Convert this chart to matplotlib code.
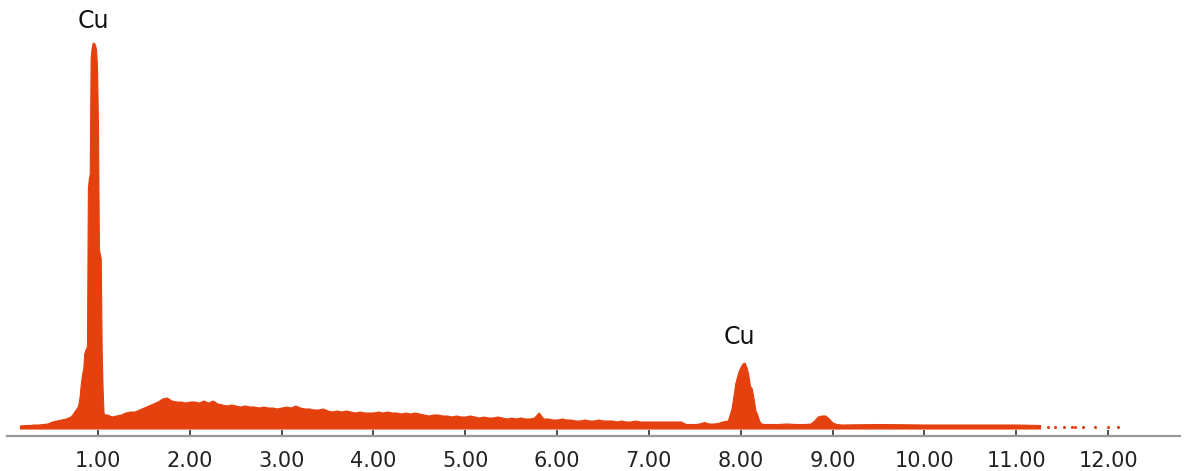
import matplotlib.pyplot as plt
import numpy as np

# EDS spectrum, intensity in arbitrary units
# low energy shoulder before the Cu L line
low_e = [0.15, 0.20, 0.25, 0.30, 0.35, 0.40, 0.45, 0.50, 0.55, 0.60, 0.65, 0.70, 0.72, 0.75]
low_i = [3, 3.5, 3.5, 4, 4, 4.5, 5, 7, 8, 9, 10, 12, 14, 18]

# Cu L line
cul_e = [0.78, 0.79, 0.80, 0.81, 0.82, 0.83, 0.84, 0.85, 0.86, 0.87, 0.88, 0.89,
         0.90, 0.91, 0.92, 0.93, 0.94, 0.95, 0.96, 0.97, 0.98, 0.99, 1.00, 1.01,
         1.02, 1.03, 1.04, 1.05, 1.06, 1.07]
cul_i = [22, 26, 32, 42, 50, 56, 60, 75, 78, 80, 82, 240,
         250, 255, 370, 380, 385, 386, 385, 383, 378, 360, 300, 178,
         175, 170, 78, 40, 16, 14]

# bremsstrahlung background
bg_e = [1.10, 1.15, 1.20, 1.25, 1.30, 1.35, 1.40, 1.45, 1.50, 1.55, 1.60, 1.65, 1.70,
        1.75, 1.80, 1.85, 1.90, 1.95, 2.00, 2.05, 2.10, 2.15, 2.20, 2.25, 2.30, 2.35,
        2.40, 2.45, 2.50, 2.55, 2.60, 2.65, 2.70, 2.75, 2.80, 2.85, 2.90, 2.95, 3.00,
        3.05, 3.10, 3.15, 3.20, 3.25, 3.30, 3.35, 3.40, 3.45, 3.50, 3.55, 3.60, 3.65,
        3.70, 3.75, 3.80, 3.85, 3.90, 3.95, 4.00, 4.05, 4.10, 4.15, 4.20, 4.25, 4.30,
        4.35, 4.40, 4.45, 4.50, 4.55, 4.60, 4.65, 4.70, 4.75, 4.80, 4.85, 4.90, 4.95,
        5.00, 5.05, 5.10, 5.15, 5.20, 5.25, 5.30, 5.35, 5.40, 5.45, 5.50, 5.55, 5.60,
        5.65, 5.70, 5.75, 5.80, 5.85, 5.90, 5.95, 6.00, 6.05, 6.10, 6.15, 6.20, 6.25,
        6.30, 6.35, 6.40, 6.45, 6.50, 6.55, 6.60, 6.65, 6.70, 6.75, 6.80, 6.85, 6.90,
        6.95, 7.00, 7.05, 7.10, 7.15, 7.20, 7.25, 7.30, 7.35, 7.40, 7.45, 7.50, 7.55,
        7.60, 7.65, 7.70, 7.75, 7.80]
bg_i = [14, 12, 13, 14, 16, 17, 17, 19, 21, 23, 25, 27, 30,
        31, 28, 27, 27, 26, 27, 27, 26, 28, 26, 28, 25, 24,
        23, 24, 23, 22, 23, 22, 22, 21, 22, 21, 21, 20, 21,
        22, 21, 23, 21, 20, 20, 19, 19, 20, 18, 17, 18, 17,
        18, 17, 16, 17, 16, 16, 16, 17, 16, 17, 16, 16, 15,
        16, 15, 16, 15, 14, 13, 14, 14, 13, 13, 12, 13, 12,
        12, 13, 12, 11, 12, 11, 11, 12, 11, 10, 11, 10, 11,
        10, 10, 11, 16, 10, 10, 9, 9, 10, 9, 9, 8, 8,
        9, 8, 8, 9, 8, 8, 8, 7, 8, 7, 7, 8, 7,
        7, 7, 7, 7, 7, 7, 7, 7, 7, 4.5, 4.5, 4.5, 5,
        6.5, 5, 5, 5.5, 7]

# Cu K alpha / K beta lines and flat tail
cuk_e = [7.86, 7.88, 7.90, 7.92, 7.94, 7.96, 7.98, 8.00, 8.02, 8.04, 8.06, 8.08,
         8.10, 8.12, 8.14, 8.16, 8.18, 8.20, 8.22, 8.26, 8.30, 8.40, 8.50, 8.60,
         8.70, 8.76, 8.80, 8.84, 8.88, 8.92, 8.96, 9.00, 9.04, 9.10, 9.50, 10.00,
         10.50, 11.00, 11.26]
cuk_i = [8, 14, 20, 32, 45, 52, 58, 62, 65, 66, 62, 55,
         43, 40, 30, 18, 14, 8, 5, 4.5, 4.5, 4.5, 5, 4.5,
         4.5, 5, 8, 12, 13, 13, 10, 6, 4.5, 4, 4.5, 4,
         4, 4, 3.5]

# scattered single counts at the high energy end
dot_e = [11.35, 11.42, 11.52, 11.61, 11.64, 11.73, 11.86, 12.00, 12.11]
dot_i = [2, 2, 2, 2, 2, 2, 2, 2, 2]

peak_labels = ["Cu", "Cu"]
peak_pos = [0.95, 7.98]
peak_h = [408, 91]

ticks = [1, 2, 3, 4, 5, 6, 7, 8, 9, 10, 11, 12]

energy = np.array(low_e + cul_e + bg_e + cuk_e)
inten = np.array(low_i + cul_i + bg_i + cuk_i)

col = "#E5410F"

fig = plt.figure(figsize=(11.84, 4.71), dpi=100)
ax = fig.add_axes([7 / 1184, 35.5 / 471, 1173 / 1184, 435.5 / 471])

ax.fill_between(energy, 0, inten, color=col, linewidth=0.8, edgecolor=col)
ax.scatter(dot_e, dot_i, s=5, color=col, linewidths=0)

for lab, x, y in zip(peak_labels, peak_pos, peak_h):
    ax.text(x, y, lab, ha="center", va="center", fontsize=17, color="#111")

ax.set_xlim(0.009, 12.784)
ax.set_ylim(-7, 428.5)

for s in ["top", "left", "right"]:
    ax.spines[s].set_visible(False)
ax.spines["bottom"].set_color("#999999")
ax.spines["bottom"].set_linewidth(1.6)

ax.set_xticks(ticks)
ax.set_xticklabels(["%.2f" % t for t in ticks])
ax.tick_params(axis="x", direction="in", length=4, width=1.3, color="#444444",
               pad=11, labelsize=15, labelcolor="#222222")
ax.set_yticks([])

fig.savefig("out.png", dpi=100)
